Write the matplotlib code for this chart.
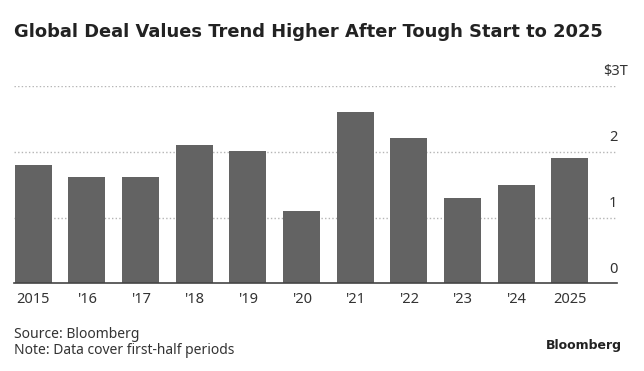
import matplotlib
matplotlib.use("Agg")
import matplotlib.pyplot as plt

years = ["2015", "'16", "'17", "'18", "'19", "'20", "'21", "'22", "'23", "'24", "2025"]
values = [1.80, 1.61, 1.61, 2.10, 2.01, 1.10, 2.61, 2.21, 1.30, 1.50, 1.90]
ytick_vals = [0, 1, 2, 3]
ytick_labels = ["0", "1", "2", "$3T"]

title = "Global Deal Values Trend Higher After Tough Start to 2025"
source = "Source: Bloomberg"
note = "Note: Data cover first-half periods"

plt.rcParams['font.family'] = ['Noto Sans', 'DejaVu Sans']

W, H = 644, 371
fig = plt.figure(figsize=(W / 100, H / 100), dpi=100)
fig.patch.set_facecolor('white')

ax_left, ax_right = 14, 617
ax_bottom, ax_top = 283.3, 86
ax = fig.add_axes([ax_left / W, 1 - ax_bottom / H, (ax_right - ax_left) / W, (ax_bottom - ax_top) / H])

x = list(range(len(years)))
ax.bar(x, values, width=0.69, color='#636363', zorder=3)
ax.set_xlim(-0.36, 10.88)
ax.set_ylim(0, 3)

for v in ytick_vals[1:]:
    ax.axhline(v, color='#b5b5b5', lw=1.0, ls=(0, (1, 1.6)), zorder=1)

for s in ['top', 'left', 'right']:
    ax.spines[s].set_visible(False)
ax.spines['bottom'].set_color('#444444')
ax.spines['bottom'].set_linewidth(1.2)
ax.spines['bottom'].set_zorder(4)

ax.set_yticks([])
ax.set_xticks(x)
ax.set_xticklabels(years, fontsize=10.5, color='#333333')
ax.tick_params(axis='x', length=0, pad=6)

# y labels above gridlines at right
for v, lab in zip(ytick_vals, ytick_labels):
    ypix = ax_bottom - v * (ax_bottom - ax_top) / 3 - 14
    if lab.startswith('$'):
        fig.text(628 / W, 1 - ypix / H, lab, ha='right', va='center', fontsize=10.5, color='#333333')
    else:
        fig.text(613 / W, 1 - ypix / H, lab, ha='center', va='center', fontsize=10.5, color='#333333')

fig.text(14 / W, 1 - 32 / H, title, ha='left', va='center', fontsize=12.9,
         fontweight='bold', color='#222222', family='DejaVu Sans')
fig.text(14 / W, 1 - 335 / H, source, ha='left', va='center', fontsize=10, color='#333333')
fig.text(14 / W, 1 - 350 / H, note, ha='left', va='center', fontsize=10, color='#333333')
fig.text(622 / W, 1 - 346 / H, "Bloomberg", ha='right', va='center', fontsize=9,
         fontweight='bold', color='#222222', family='DejaVu Sans')

fig.savefig('out.png', dpi=100)
